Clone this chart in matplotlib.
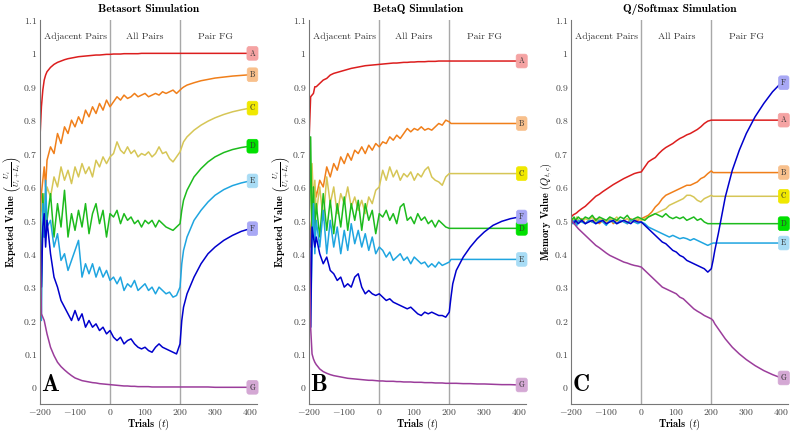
import matplotlib
matplotlib.use("Agg")
import matplotlib.pyplot as plt
from matplotlib.ticker import FuncFormatter, MultipleLocator

plt.rcParams['mathtext.fontset'] = 'cm'
plt.rcParams['font.family'] = 'cmr10'
plt.rcParams['axes.unicode_minus'] = False

# trial grid the values were read at
trials = [-200, -196, -192, -188, -184, -180,
          -170, -160, -150, -140, -130, -120, -110, -100, -90, -80, -70, -60, -50, -40, -30, -20, -10,
          0,
          10, 20, 30, 40, 50, 60, 70, 80, 90, 100, 110, 120, 130, 140, 150, 160, 170, 180, 190, 200,
          205, 210, 220, 240, 260, 280, 300, 325, 350, 375, 400]

stimuli = ['A', 'B', 'C', 'D', 'E', 'F', 'G']
line_colors = ['#dc1e1e', '#f07f1a', '#d6c656', '#1dbb1d', '#1fa5e0', '#0000cc', '#9b3d9b']
box_colors = ['#f5a3a3', '#f8c08c', '#f0e800', '#00e000', '#a8dcf5', '#a8a8f5', '#d4a8d4']

# ---- Betasort
betasort_A = [0.75, 0.84, 0.89, 0.92, 0.935, 0.945,
              0.958, 0.967, 0.973, 0.977, 0.981, 0.984, 0.986, 0.988, 0.99, 0.991, 0.992, 0.993, 0.994, 0.995, 0.995, 0.996, 0.997,
              0.997,
              0.998, 0.998, 0.998, 0.999, 0.999, 0.999, 0.999, 0.999, 1.0, 1.0, 1.0, 1.0, 1.0, 1.0, 1.0, 1.0, 1.0, 1.0, 1.0, 1.0,
              1.0, 1.0, 1.0, 1.0, 1.0, 1.0, 1.0, 1.0, 1.0, 1.0, 1.0]
betasort_B = [0.5, 0.58, 0.62, 0.66, 0.6, 0.68,
              0.72, 0.70, 0.76, 0.73, 0.78, 0.76, 0.80, 0.78, 0.81, 0.79, 0.83, 0.81, 0.84, 0.82, 0.85, 0.83, 0.86,
              0.84,
              0.855, 0.87, 0.86, 0.875, 0.865, 0.87, 0.88, 0.87, 0.875, 0.88, 0.87, 0.875, 0.88, 0.875, 0.885, 0.88, 0.885, 0.89, 0.88, 0.89,
              0.895, 0.899, 0.905, 0.912, 0.918, 0.922, 0.926, 0.929, 0.932, 0.934, 0.936]
betasort_C = [0.5, 0.55, 0.52, 0.58, 0.56, 0.6,
              0.57, 0.63, 0.6, 0.66, 0.62, 0.65, 0.61, 0.66, 0.63, 0.67, 0.64, 0.66, 0.63, 0.68, 0.66, 0.69, 0.67,
              0.69,
              0.7, 0.735, 0.71, 0.7, 0.72, 0.7, 0.71, 0.69, 0.7, 0.695, 0.705, 0.69, 0.7, 0.72, 0.7, 0.705, 0.685, 0.675, 0.69, 0.705,
              0.72, 0.735, 0.75, 0.77, 0.785, 0.797, 0.807, 0.817, 0.825, 0.831, 0.836]
betasort_D = [0.5, 0.3, 0.58, 0.45, 0.55, 0.5,
              0.58, 0.45, 0.55, 0.48, 0.59, 0.45, 0.52, 0.47, 0.53, 0.48, 0.55, 0.46, 0.52, 0.55, 0.49, 0.53, 0.45,
              0.52,
              0.51, 0.53, 0.49, 0.52, 0.5, 0.51, 0.49, 0.5, 0.48, 0.5, 0.49, 0.5, 0.48, 0.5, 0.49, 0.48, 0.475, 0.47, 0.48, 0.49,
              0.53, 0.56, 0.59, 0.63, 0.655, 0.675, 0.69, 0.703, 0.712, 0.718, 0.722]
betasort_E = [0.5, 0.2, 0.55, 0.45, 0.62, 0.48,
              0.5, 0.42, 0.46, 0.38, 0.4, 0.35, 0.38, 0.41, 0.44, 0.33, 0.37, 0.34, 0.37, 0.33, 0.36, 0.33, 0.35,
              0.32,
              0.33, 0.31, 0.33, 0.29, 0.31, 0.3, 0.32, 0.29, 0.3, 0.31, 0.29, 0.3, 0.28, 0.3, 0.29, 0.28, 0.285, 0.27, 0.275, 0.3,
              0.37, 0.41, 0.45, 0.5, 0.53, 0.555, 0.575, 0.592, 0.604, 0.612, 0.618]
betasort_F = [0.5, 0.3, 0.48, 0.52, 0.42, 0.5,
              0.4, 0.33, 0.3, 0.26, 0.24, 0.22, 0.2, 0.23, 0.2, 0.22, 0.18, 0.2, 0.18, 0.19, 0.17, 0.18, 0.16,
              0.17,
              0.15, 0.14, 0.15, 0.13, 0.14, 0.145, 0.13, 0.12, 0.115, 0.12, 0.11, 0.105, 0.12, 0.13, 0.12, 0.115, 0.11, 0.105, 0.1, 0.13,
              0.2, 0.24, 0.28, 0.33, 0.37, 0.4, 0.42, 0.44, 0.455, 0.467, 0.475]
betasort_G = [0.5, 0.22, 0.21, 0.2, 0.18, 0.16,
              0.12, 0.095, 0.075, 0.062, 0.052, 0.043, 0.035, 0.028, 0.024, 0.02, 0.018, 0.016, 0.014, 0.013, 0.011, 0.01, 0.009,
              0.008,
              0.007, 0.006, 0.005, 0.004, 0.004, 0.003, 0.003, 0.002, 0.002, 0.002, 0.002, 0.001, 0.001, 0.001, 0.001, 0.001, 0.001, 0.001, 0.001, 0.001,
              0.001, 0.001, 0.001, 0.001, 0.001, 0.001, 0.0, 0.0, 0.0, 0.0, 0.0]

# ---- BetaQ
betaq_A = [0.755, 0.87, 0.875, 0.88, 0.9, 0.9,
           0.91, 0.92, 0.925, 0.935, 0.94, 0.943, 0.946, 0.949, 0.952, 0.955, 0.957, 0.959, 0.961, 0.963, 0.964, 0.965, 0.966,
           0.967,
           0.968, 0.969, 0.97, 0.971, 0.971, 0.972, 0.973, 0.973, 0.974, 0.974, 0.975, 0.975, 0.975, 0.976, 0.976, 0.976, 0.977, 0.977, 0.977, 0.977,
           0.977, 0.977, 0.977, 0.977, 0.977, 0.977, 0.977, 0.977, 0.977, 0.977, 0.977]
betaq_B = [0.5, 0.42, 0.55, 0.58, 0.6, 0.57,
           0.62, 0.6, 0.66, 0.63, 0.67, 0.65, 0.69, 0.67, 0.7, 0.68, 0.71, 0.7, 0.72, 0.7, 0.725, 0.71, 0.73,
           0.72,
           0.735, 0.73, 0.75, 0.74, 0.755, 0.745, 0.76, 0.775, 0.765, 0.775, 0.77, 0.78, 0.77, 0.775, 0.77, 0.78, 0.79, 0.785, 0.8, 0.795,
           0.79, 0.79, 0.79, 0.79, 0.79, 0.79, 0.79, 0.79, 0.79, 0.79, 0.79]
betaq_C = [0.5, 0.6, 0.67, 0.55, 0.62, 0.52,
           0.6, 0.5, 0.63, 0.55, 0.6, 0.52, 0.58, 0.55, 0.6, 0.54, 0.57, 0.53, 0.56, 0.52, 0.57, 0.55, 0.59,
           0.6,
           0.65, 0.62, 0.66, 0.63, 0.65, 0.62, 0.64, 0.63, 0.645, 0.62, 0.64, 0.63, 0.65, 0.66, 0.63, 0.62, 0.615, 0.605, 0.63, 0.64,
           0.64, 0.64, 0.64, 0.64, 0.64, 0.64, 0.64, 0.64, 0.64, 0.64, 0.64]
betaq_D = [0.5, 0.75, 0.45, 0.6, 0.47, 0.55,
           0.45, 0.58, 0.47, 0.56, 0.46, 0.55, 0.48, 0.57, 0.47, 0.55, 0.5, 0.56, 0.47, 0.55, 0.5, 0.53, 0.46,
           0.52,
           0.51, 0.53, 0.5, 0.52, 0.49, 0.54, 0.55, 0.5, 0.51, 0.49, 0.52, 0.5, 0.51, 0.49, 0.5, 0.48, 0.5, 0.49, 0.48, 0.476,
           0.476, 0.476, 0.476, 0.476, 0.476, 0.476, 0.476, 0.476, 0.476, 0.476, 0.476]
betaq_E = [0.5, 0.18, 0.42, 0.55, 0.4, 0.5,
           0.42, 0.53, 0.4, 0.5, 0.42, 0.48, 0.4, 0.47, 0.41, 0.49, 0.43, 0.47, 0.42, 0.46, 0.41, 0.45, 0.4,
           0.42,
           0.41, 0.39, 0.405, 0.38, 0.39, 0.4, 0.38, 0.39, 0.37, 0.39, 0.38, 0.37, 0.375, 0.36, 0.37, 0.36, 0.375, 0.365, 0.37, 0.375,
           0.383, 0.383, 0.383, 0.383, 0.383, 0.383, 0.383, 0.383, 0.383, 0.383, 0.383]
betaq_F = [0.5, 0.18, 0.48, 0.45, 0.42, 0.45,
           0.4, 0.37, 0.39, 0.35, 0.34, 0.32, 0.33, 0.3, 0.31, 0.3, 0.33, 0.34, 0.3, 0.28, 0.29, 0.28, 0.275,
           0.28,
           0.27, 0.26, 0.265, 0.255, 0.25, 0.245, 0.24, 0.235, 0.24, 0.23, 0.22, 0.215, 0.225, 0.22, 0.225, 0.22, 0.215, 0.215, 0.21, 0.225,
           0.27, 0.31, 0.35, 0.39, 0.42, 0.445, 0.465, 0.485, 0.497, 0.505, 0.51]
betaq_G = [0.5, 0.18, 0.1, 0.085, 0.075, 0.068,
           0.055, 0.047, 0.042, 0.038, 0.035, 0.033, 0.031, 0.029, 0.027, 0.026, 0.025, 0.024, 0.023, 0.022, 0.021, 0.021, 0.02,
           0.019,
           0.019, 0.018, 0.018, 0.018, 0.017, 0.017, 0.016, 0.016, 0.016, 0.015, 0.015, 0.015, 0.014, 0.014, 0.014, 0.013, 0.013, 0.013, 0.012, 0.012,
           0.012, 0.012, 0.012, 0.011, 0.011, 0.01, 0.01, 0.009, 0.008, 0.008, 0.007]

# ---- Q/Softmax
q_A = [0.51, 0.515, 0.518, 0.52, 0.523, 0.527,
       0.535, 0.542, 0.552, 0.562, 0.572, 0.578, 0.586, 0.593, 0.6, 0.607, 0.613, 0.619, 0.625, 0.63, 0.635, 0.64, 0.643,
       0.645,
       0.66, 0.675, 0.682, 0.688, 0.7, 0.71, 0.718, 0.724, 0.73, 0.738, 0.745, 0.75, 0.756, 0.76, 0.766, 0.772, 0.78, 0.79, 0.797, 0.8,
       0.8, 0.8, 0.8, 0.8, 0.8, 0.8, 0.8, 0.8, 0.8, 0.8, 0.8]
q_B = [0.5, 0.495, 0.505, 0.49, 0.5, 0.495,
       0.505, 0.49, 0.5, 0.495, 0.505, 0.49, 0.5, 0.495, 0.505, 0.49, 0.5, 0.495, 0.5, 0.49, 0.505, 0.495, 0.5,
       0.505,
       0.51, 0.515, 0.525, 0.54, 0.55, 0.565, 0.575, 0.58, 0.585, 0.59, 0.595, 0.6, 0.605, 0.605, 0.61, 0.615, 0.625, 0.63, 0.64, 0.648,
       0.643, 0.643, 0.643, 0.643, 0.643, 0.643, 0.643, 0.643, 0.643, 0.643, 0.643]
q_C = [0.5, 0.505, 0.495, 0.5, 0.51, 0.5,
       0.495, 0.505, 0.5, 0.51, 0.495, 0.505, 0.5, 0.495, 0.505, 0.5, 0.51, 0.495, 0.5, 0.505, 0.495, 0.5, 0.505,
       0.5,
       0.505, 0.51, 0.515, 0.52, 0.525, 0.53, 0.535, 0.545, 0.55, 0.555, 0.56, 0.565, 0.575, 0.575, 0.57, 0.56, 0.555, 0.565, 0.57, 0.575,
       0.572, 0.572, 0.572, 0.572, 0.572, 0.572, 0.572, 0.572, 0.572, 0.572, 0.572]
q_D = [0.5, 0.505, 0.51, 0.5, 0.505, 0.51,
       0.5, 0.51, 0.505, 0.515, 0.5, 0.51, 0.505, 0.5, 0.51, 0.505, 0.5, 0.51, 0.505, 0.515, 0.5, 0.505, 0.51,
       0.505,
       0.5, 0.51, 0.515, 0.52, 0.515, 0.51, 0.52, 0.51, 0.505, 0.51, 0.505, 0.51, 0.5, 0.505, 0.51, 0.5, 0.505, 0.495, 0.49, 0.49,
       0.49, 0.49, 0.49, 0.49, 0.49, 0.49, 0.49, 0.49, 0.49, 0.49, 0.49]
q_E = [0.5, 0.49, 0.5, 0.495, 0.485, 0.5,
       0.495, 0.49, 0.5, 0.495, 0.49, 0.5, 0.495, 0.485, 0.5, 0.495, 0.49, 0.5, 0.495, 0.49, 0.5, 0.495, 0.49,
       0.495,
       0.49, 0.48, 0.475, 0.47, 0.465, 0.46, 0.455, 0.45, 0.455, 0.45, 0.445, 0.448, 0.445, 0.44, 0.445, 0.44, 0.435, 0.43, 0.425, 0.43,
       0.432, 0.432, 0.432, 0.432, 0.432, 0.432, 0.432, 0.432, 0.432, 0.432, 0.432]
q_F = [0.5, 0.495, 0.49, 0.5, 0.495, 0.49,
       0.5, 0.49, 0.495, 0.5, 0.49, 0.495, 0.5, 0.49, 0.495, 0.5, 0.49, 0.495, 0.5, 0.495, 0.49, 0.5, 0.495,
       0.495,
       0.485, 0.475, 0.465, 0.455, 0.445, 0.435, 0.43, 0.42, 0.41, 0.405, 0.395, 0.39, 0.38, 0.375, 0.37, 0.365, 0.36, 0.355, 0.345, 0.355,
       0.38, 0.41, 0.46, 0.57, 0.65, 0.71, 0.76, 0.81, 0.85, 0.885, 0.912]
q_G = [0.5, 0.495, 0.49, 0.485, 0.48, 0.475,
       0.465, 0.455, 0.445, 0.435, 0.425, 0.418, 0.41, 0.402, 0.395, 0.39, 0.385, 0.38, 0.375, 0.372, 0.368, 0.365, 0.363,
       0.36,
       0.35, 0.34, 0.33, 0.32, 0.31, 0.3, 0.295, 0.29, 0.285, 0.28, 0.27, 0.265, 0.255, 0.245, 0.235, 0.228, 0.222, 0.215, 0.21, 0.205,
       0.2, 0.19, 0.175, 0.145, 0.12, 0.1, 0.083, 0.065, 0.05, 0.038, 0.028]

panels = [
    ('Betasort Simulation', r'Expected Value $\left(\frac{U_i}{U_i+L_i}\right)$', 'A',
     [betasort_A, betasort_B, betasort_C, betasort_D, betasort_E, betasort_F, betasort_G]),
    ('BetaQ Simulation', r'Expected Value $\left(\frac{U_i}{U_i+L_i}\right)$', 'B',
     [betaq_A, betaq_B, betaq_C, betaq_D, betaq_E, betaq_F, betaq_G]),
    ('Q/Softmax Simulation', r'Memory Value $(Q_{t,c})$', 'C',
     [q_A, q_B, q_C, q_D, q_E, q_F, q_G]),
]
phase_names = ['Adjacent Pairs', 'All Pairs', 'Pair FG']
phase_centers = [-100, 100, 300]
phase_bounds = [0, 200]

fig = plt.figure(figsize=(7.97, 4.32), dpi=100)
lefts = [0.0502, 0.388, 0.7168]

fmt = FuncFormatter(lambda v, p: '$%g$' % round(v, 2))

for left, (title, ylab, letter, series) in zip(lefts, panels):
    ax = fig.add_axes([left, 0.0648, 0.2723, 0.889])
    for b in phase_bounds:
        ax.axvline(b, color='#a8a8a8', lw=1.0, zorder=1)
    for name, col, vals in zip(stimuli, line_colors, series):
        ax.plot(trials, vals, color=col, lw=1.1, zorder=2)
    for name, col, bcol, vals in zip(stimuli, line_colors, box_colors, series):
        ax.text(407, vals[-1], name, ha='center', va='center', fontsize=5.5,
                color='#333333', zorder=5, clip_on=False,
                bbox=dict(boxstyle='round,pad=0.35,rounding_size=0.3', fc=bcol, ec=bcol, lw=0.5))
    for nm, c in zip(phase_names, phase_centers):
        ax.text(c, 1.05, nm, ha='center', va='center', fontsize=7, color='#333333')
    ax.text(-197, -0.012, letter, fontsize=17, fontfamily='cmb10', ha='left', va='baseline')

    ax.set_xlim(-200, 420)
    ax.set_ylim(-0.05, 1.1)
    ax.xaxis.set_major_locator(MultipleLocator(100))
    ax.yaxis.set_major_locator(MultipleLocator(0.1))
    ax.xaxis.set_major_formatter(fmt)
    ax.yaxis.set_major_formatter(fmt)
    ax.tick_params(labelsize=7, colors='#444444', length=0, pad=2)
    for s in ['top', 'right']:
        ax.spines[s].set_visible(False)
    for s in ['left', 'bottom']:
        ax.spines[s].set_color('#777777')
        ax.spines[s].set_linewidth(0.8)
    ax.set_title(title, fontsize=8.3, fontfamily='cmb10', pad=6)
    ax.set_ylabel(ylab, fontsize=7.5, fontfamily='cmb10', labelpad=0)
    ax.set_xlabel(r'Trials $(t)$', fontsize=7.5, fontfamily='cmb10', labelpad=0)

fig.savefig('out.png', dpi=100)
